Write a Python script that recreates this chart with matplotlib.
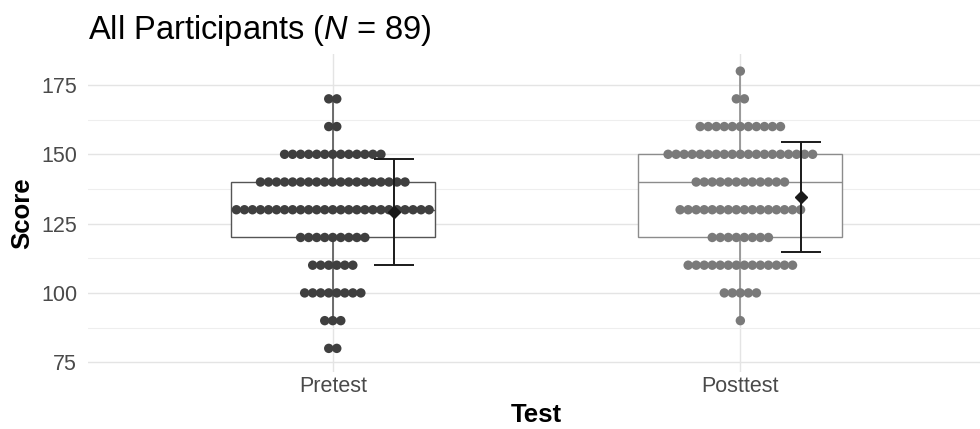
import matplotlib.pyplot as plt
import numpy as np

plt.rcParams["font.family"] = ["Liberation Sans", "DejaVu Sans"]
plt.rcParams["mathtext.fontset"] = "custom"
plt.rcParams["mathtext.it"] = "Liberation Sans:italic"
plt.rcParams["mathtext.rm"] = "Liberation Sans"

levels = [80, 90, 100, 110, 120, 130, 140, 150, 160, 170, 180]
pre_counts = [2, 3, 8, 6, 9, 25, 19, 13, 2, 2, 0]
post_counts = [0, 1, 5, 14, 8, 16, 12, 19, 11, 2, 1]
groups = ["Pretest", "Posttest"]
dot_colors = ["#3f3f3f", "#7a7a7a"]
box_colors = ["#555555", "#8c8c8c"]

pre = np.repeat(levels, pre_counts)
post = np.repeat(levels, post_counts)
data = [pre, post]

fig = plt.figure(figsize=(9.8, 4.29), dpi=100)
ax = fig.add_axes([0.09, 0.133, 0.915, 0.74])

pos = np.arange(1, 3)

# grid (theme_minimal look)
ax.set_yticks([75, 100, 125, 150, 175])
ax.set_yticks([87.5, 112.5, 137.5, 162.5], minor=True)
ax.grid(True, which="major", color="#e4e4e4", lw=1.0, zorder=0)
ax.grid(True, which="minor", axis="y", color="#eeeeee", lw=0.8, zorder=0)
ax.set_axisbelow(True)

for i, (vals, p) in enumerate(zip(data, pos)):
    ax.boxplot(vals, positions=[p], widths=0.5, showfliers=False,
               patch_artist=True, manage_ticks=False,
               boxprops=dict(facecolor="white", edgecolor=box_colors[i], lw=1.0),
               medianprops=dict(color=box_colors[i], lw=1.0),
               whiskerprops=dict(color=box_colors[i], lw=1.2),
               capprops=dict(visible=False), zorder=2)

    # stacked dots, centred on the group position
    step = 0.0197
    xs, ys = [], []
    for lv in np.unique(vals):
        n = np.sum(vals == lv)
        off = (np.arange(n) - (n - 1) / 2) * step
        xs.extend(p + off)
        ys.extend([lv] * n)
    ax.scatter(xs, ys, s=46, color=dot_colors[i], edgecolors="none", zorder=3)

    # mean +/- SD
    m = vals.mean()
    sd = vals.std(ddof=1)
    xe = p + 0.15
    ax.errorbar(xe, m, yerr=sd, fmt="D", color="#1a1a1a", ms=6,
                capsize=14.5, elinewidth=1.4, capthick=1.4, zorder=4)

ax.set_xlim(0.4, 2.6)
ax.set_ylim(71.5, 186)
ax.set_xticks(pos)
ax.set_xticklabels(groups)
ax.tick_params(axis="both", which="both", length=0, labelsize=15.5,
               labelcolor="#4a4a4a")
ax.tick_params(axis="y", pad=8)
ax.tick_params(axis="x", pad=3)
for s in ax.spines.values():
    s.set_visible(False)

ax.set_xlabel("Test", fontsize=18.5, fontweight="bold", labelpad=4)
ax.set_ylabel("Score", fontsize=18.5, fontweight="bold", labelpad=5)
fig.text(0.09, 0.93, r"All Participants ($\mathit{N}$ = 89)", fontsize=23.5,
         ha="left", va="center")

fig.savefig("out.png", dpi=100)
